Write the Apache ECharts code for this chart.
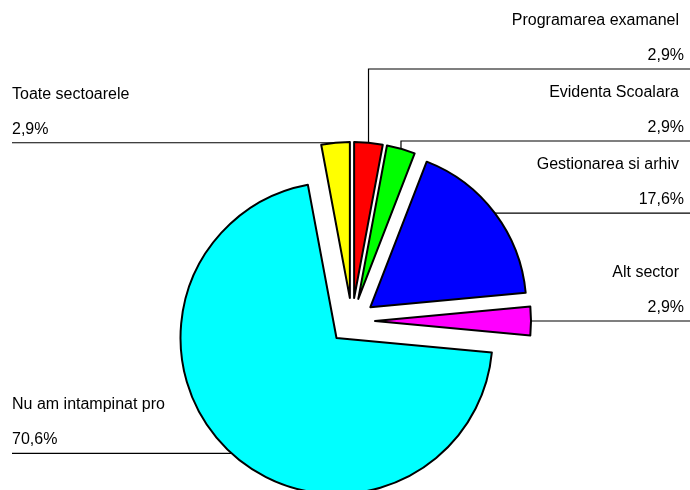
<!DOCTYPE html>
<html>
<head>
<meta charset="utf-8">
<script src="https://cdn.jsdelivr.net/npm/echarts@6/dist/echarts.min.js"></script>
<style>
  html, body { margin: 0; background: #fff; }
  #chart { width: 690px; height: 490px; }
</style>
</head>
<body>
<div id="chart"></div>
<script>
const names = ['Programarea examanel', 'Evidenta Scoalara', 'Gestionarea si arhiv', 'Alt sector', 'Nu am intampinat pro', 'Toate sectoarele'];
const counts = [1, 1, 6, 1, 24, 1];
const percentLabels = ['2,9%', '2,9%', '17,6%', '2,9%', '70,6%', '2,9%'];
const sliceColors = ['#ff0000', '#00ff00', '#0000ff', '#ff00ff', '#00ffff', '#ffff00'];

// pie geometry
const CX = 352, CY = 321, R = 156, OFFSET = 23;
// some labels sit higher than their slice, the line goes up first
const lineLevels = [69, 141, null, null, null, null];

const chart = echarts.init(document.getElementById('chart'));

const pieBase = {
  type: 'pie',
  center: [CX, CY],
  radius: R,
  startAngle: 90,
  clockwise: true,
  avoidLabelOverlap: false,
  emphasis: { disabled: true }
};

// labels live on an unselected copy of the pie, so their layout is not
// overridden by the select state of the exploded slices
function placeLabel(params) {
  const i = params.dataIndex;
  const p0 = params.labelLinePoints[0];
  const vx = p0[0] - CX, vy = p0[1] - CY;
  const len = Math.hypot(vx, vy);
  const ax = p0[0] + vx / len * OFFSET;
  const ay = p0[1] + vy / len * OFFSET;
  const right = ax > CX;
  const y = lineLevels[i] != null ? lineLevels[i] : ay;
  return {
    x: right ? 684 : 12,
    y: y - 31,
    align: right ? 'right' : 'left',
    verticalAlign: 'middle',
    labelLinePoints: [[ax, ay], [ax, y], [right ? 690 : 12, y]]
  };
}

chart.setOption({
  animation: false,
  backgroundColor: '#fff',
  series: [
    Object.assign({}, pieBase, {
      selectedMode: 'multiple',
      selectedOffset: OFFSET,
      itemStyle: { borderColor: '#000', borderWidth: 2 },
      label: { show: false },
      labelLine: { show: false },
      data: names.map((n, i) => ({
        name: n,
        value: counts[i],
        selected: true,
        itemStyle: { color: sliceColors[i] }
      }))
    }),
    Object.assign({}, pieBase, {
      silent: true,
      itemStyle: { color: 'rgba(0,0,0,0)', borderWidth: 0 },
      label: {
        show: true,
        formatter: (p) => {
          const right = p.dataIndex < 4;
          return '{' + (right ? 'nr' : 'n') + '|' + p.name + '}\n{v|' + percentLabels[p.dataIndex] + '}';
        },
        color: '#000',
        fontFamily: 'Liberation Sans, Arial, sans-serif',
        fontSize: 16,
        lineHeight: 35,
        rich: {
          n: { fontSize: 16, lineHeight: 35, color: '#000' },
          nr: { fontSize: 16, lineHeight: 35, color: '#000', padding: [0, 5, 0, 0] },
          v: { fontSize: 16, lineHeight: 35, color: '#000' }
        }
      },
      labelLine: {
        show: true,
        length: 10,
        length2: 10,
        smooth: false,
        lineStyle: { color: '#000', width: 1.2 }
      },
      labelLayout: placeLabel,
      data: names.map((n, i) => ({ name: n, value: counts[i] }))
    })
  ]
});
</script>
</body>
</html>
